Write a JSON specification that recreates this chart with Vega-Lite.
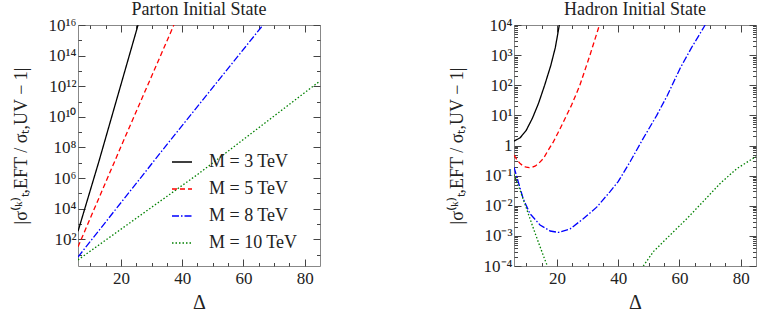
{
  "$schema": "https://vega.github.io/schema/vega-lite/v6.json",
  "padding": {"left": 12, "top": 0, "right": 5, "bottom": 5},
  "config": {
    "font": "Liberation Serif",
    "view": {"stroke": "#888888", "strokeWidth": 1},
    "axis": {"domain": false, "grid": false, "labelFont": "Liberation Serif", "labelFontSize": 17, "labelColor": "#222222", "tickColor": "#444444", "tickWidth": 1, "titleFont": "Liberation Serif", "titleFontWeight": "normal", "titleColor": "#222222"},
    "title": {"font": "Liberation Serif", "fontSize": 18, "fontWeight": "normal", "color": "#222222"}
  },
  "datasets": {
    "parton": [
      {"D": 6, "val": 330, "M": "M = 3 TeV"},
      {"D": 12.76, "val": 1.1e7, "M": "M = 3 TeV"},
      {"D": 25.6, "val": 1e16, "M": "M = 3 TeV"},
      {"D": 6, "val": 32, "M": "M = 5 TeV"},
      {"D": 20, "val": 1.1e8, "M": "M = 5 TeV"},
      {"D": 37.3, "val": 1e16, "M": "M = 5 TeV"},
      {"D": 6, "val": 7, "M": "M = 8 TeV"},
      {"D": 36, "val": 2.7e8, "M": "M = 8 TeV"},
      {"D": 66.4, "val": 1e16, "M": "M = 8 TeV"},
      {"D": 6, "val": 4.5, "M": "M = 10 TeV"},
      {"D": 45, "val": 1.7e6, "M": "M = 10 TeV"},
      {"D": 85, "val": 2.2e12, "M": "M = 10 TeV"}
    ],
    "hadron": [
      {"D": 6, "val": 1.4, "M": "M = 3 TeV", "part": "a"},
      {"D": 8, "val": 1.8, "M": "M = 3 TeV", "part": "a"},
      {"D": 10, "val": 3.2, "M": "M = 3 TeV", "part": "a"},
      {"D": 12, "val": 8, "M": "M = 3 TeV", "part": "a"},
      {"D": 14, "val": 25, "M": "M = 3 TeV", "part": "a"},
      {"D": 16, "val": 100, "M": "M = 3 TeV", "part": "a"},
      {"D": 18, "val": 450, "M": "M = 3 TeV", "part": "a"},
      {"D": 19.5, "val": 1800, "M": "M = 3 TeV", "part": "a"},
      {"D": 20.8, "val": 10000, "M": "M = 3 TeV", "part": "a"},
      {"D": 6, "val": 0.48, "M": "M = 5 TeV", "part": "a"},
      {"D": 7, "val": 0.33, "M": "M = 5 TeV", "part": "a"},
      {"D": 8, "val": 0.25, "M": "M = 5 TeV", "part": "a"},
      {"D": 9, "val": 0.21, "M": "M = 5 TeV", "part": "a"},
      {"D": 10, "val": 0.19, "M": "M = 5 TeV", "part": "a"},
      {"D": 11, "val": 0.185, "M": "M = 5 TeV", "part": "a"},
      {"D": 12, "val": 0.19, "M": "M = 5 TeV", "part": "a"},
      {"D": 13, "val": 0.21, "M": "M = 5 TeV", "part": "a"},
      {"D": 14, "val": 0.25, "M": "M = 5 TeV", "part": "a"},
      {"D": 15.6, "val": 0.37, "M": "M = 5 TeV", "part": "a"},
      {"D": 17, "val": 0.65, "M": "M = 5 TeV", "part": "a"},
      {"D": 18.8, "val": 1.3, "M": "M = 5 TeV", "part": "a"},
      {"D": 20.5, "val": 2.8, "M": "M = 5 TeV", "part": "a"},
      {"D": 22.1, "val": 6, "M": "M = 5 TeV", "part": "a"},
      {"D": 24.8, "val": 22, "M": "M = 5 TeV", "part": "a"},
      {"D": 27.5, "val": 100, "M": "M = 5 TeV", "part": "a"},
      {"D": 30.8, "val": 1000, "M": "M = 5 TeV", "part": "a"},
      {"D": 33.9, "val": 10000, "M": "M = 5 TeV", "part": "a"},
      {"D": 6, "val": 0.19, "M": "M = 8 TeV", "part": "a"},
      {"D": 7.4, "val": 0.062, "M": "M = 8 TeV", "part": "a"},
      {"D": 9, "val": 0.017, "M": "M = 8 TeV", "part": "a"},
      {"D": 11.2, "val": 0.0055, "M": "M = 8 TeV", "part": "a"},
      {"D": 14.5, "val": 0.0023, "M": "M = 8 TeV", "part": "a"},
      {"D": 17.8, "val": 0.00145, "M": "M = 8 TeV", "part": "a"},
      {"D": 20.5, "val": 0.0013, "M": "M = 8 TeV", "part": "a"},
      {"D": 24.3, "val": 0.0017, "M": "M = 8 TeV", "part": "a"},
      {"D": 28.6, "val": 0.0037, "M": "M = 8 TeV", "part": "a"},
      {"D": 33, "val": 0.009, "M": "M = 8 TeV", "part": "a"},
      {"D": 37.3, "val": 0.029, "M": "M = 8 TeV", "part": "a"},
      {"D": 40, "val": 0.063, "M": "M = 8 TeV", "part": "a"},
      {"D": 44, "val": 0.3, "M": "M = 8 TeV", "part": "a"},
      {"D": 48, "val": 1.6, "M": "M = 8 TeV", "part": "a"},
      {"D": 52.6, "val": 10, "M": "M = 8 TeV", "part": "a"},
      {"D": 56, "val": 45, "M": "M = 8 TeV", "part": "a"},
      {"D": 60.2, "val": 360, "M": "M = 8 TeV", "part": "a"},
      {"D": 64, "val": 1800, "M": "M = 8 TeV", "part": "a"},
      {"D": 68.4, "val": 10000, "M": "M = 8 TeV", "part": "a"},
      {"D": 6, "val": 0.11, "M": "M = 10 TeV", "part": "a"},
      {"D": 8, "val": 0.032, "M": "M = 10 TeV", "part": "a"},
      {"D": 10, "val": 0.0085, "M": "M = 10 TeV", "part": "a"},
      {"D": 12, "val": 0.0022, "M": "M = 10 TeV", "part": "a"},
      {"D": 14, "val": 0.0006, "M": "M = 10 TeV", "part": "a"},
      {"D": 16, "val": 0.00017, "M": "M = 10 TeV", "part": "a"},
      {"D": 16.9, "val": 0.0001, "M": "M = 10 TeV", "part": "a"},
      {"D": 48.2, "val": 0.0001, "M": "M = 10 TeV", "part": "b"},
      {"D": 51.5, "val": 0.0003, "M": "M = 10 TeV", "part": "b"},
      {"D": 56.9, "val": 0.00105, "M": "M = 10 TeV", "part": "b"},
      {"D": 62.4, "val": 0.0037, "M": "M = 10 TeV", "part": "b"},
      {"D": 67.8, "val": 0.014, "M": "M = 10 TeV", "part": "b"},
      {"D": 73.3, "val": 0.055, "M": "M = 10 TeV", "part": "b"},
      {"D": 78.7, "val": 0.17, "M": "M = 10 TeV", "part": "b"},
      {"D": 85, "val": 0.43, "M": "M = 10 TeV", "part": "b"}
    ]
  },
  "spacing": 126,
  "resolve": {"scale": {"color": "independent", "strokeDash": "independent"}, "legend": {"color": "independent", "strokeDash": "independent"}},
  "hconcat": [
    {
      "width": 242,
      "height": 241,
      "title": {"text": "Parton Initial State", "offset": -3},
      "data": {"name": "parton"},
      "layer": [
        {
          "mark": {"type": "line", "clip": true, "strokeWidth": 1.3},
          "encoding": {
            "x": {"field": "D", "type": "quantitative", "scale": {"domain": [6, 85], "nice": false, "zero": false},
              "axis": {"orient": "bottom", "values": [10, 15, 20, 25, 30, 35, 40, 45, 50, 55, 60, 65, 70, 75, 80], "labelExpr": "datum.value % 20 == 0 ? datum.label : ''", "tickSize": {"condition": {"test": "datum.value % 20 == 0", "value": -7}, "value": -3.5}, "labelPadding": 11, "title": "Δ", "titleFontSize": 20, "titlePadding": 6}},
            "y": {"field": "val", "type": "quantitative", "scale": {"type": "log", "domain": [1.8, 1e16], "nice": false},
              "axis": {"orient": "left", "values": [10, 100, 1000, 1e4, 1e5, 1e6, 1e7, 1e8, 1e9, 1e10, 1e11, 1e12, 1e13, 1e14, 1e15, 1e16],
                "labelExpr": "round(log(datum.value)/LN10) % 2 != 0 ? '' : '10' + replace(replace(replace(replace(replace(replace(replace(replace(replace(replace('' + round(log(datum.value)/LN10), '0', '⁰'), '1', '¹'), '2', '²'), '3', '³'), '4', '⁴'), '5', '⁵'), '6', '⁶'), '7', '⁷'), '8', '⁸'), '9', '⁹')",
                "tickSize": {"condition": {"test": "round(log(datum.value)/LN10) % 2 == 0", "value": -7}, "value": -3.5}, "labelPadding": 9, "title": "|σ⁽ᵏ⁾ₜ,EFT / σₜ,UV − 1|", "titleFontSize": 18, "titlePadding": 17}},
            "color": {"field": "M", "type": "nominal", "scale": {"domain": ["M = 3 TeV", "M = 5 TeV", "M = 8 TeV", "M = 10 TeV"], "range": ["#000000", "#ff0000", "#0000ff", "#008000"]},
              "legend": {"orient": "none", "legendX": 93, "legendY": 126, "title": null, "symbolType": "stroke", "symbolSize": 400, "symbolStrokeWidth": 1.4, "labelFontSize": 18, "labelFont": "Liberation Serif", "labelColor": "#222222", "labelOffset": 16, "rowPadding": 7}},
            "strokeDash": {"field": "M", "type": "nominal", "scale": {"domain": ["M = 3 TeV", "M = 5 TeV", "M = 8 TeV", "M = 10 TeV"], "range": [[1, 0], [5, 3], [7, 2, 1.5, 2], [1.5, 2]]},
              "legend": {"orient": "none", "legendX": 93, "legendY": 126, "title": null, "symbolType": "stroke", "symbolSize": 400, "symbolStrokeWidth": 1.4, "labelFontSize": 18, "labelFont": "Liberation Serif", "labelColor": "#222222", "labelOffset": 16, "rowPadding": 7}}
          }
        },
        {
          "mark": {"type": "line", "opacity": 0},
          "encoding": {
            "x": {"field": "D", "type": "quantitative", "axis": {"orient": "top", "values": [10, 15, 20, 25, 30, 35, 40, 45, 50, 55, 60, 65, 70, 75, 80], "labels": false, "title": null, "tickSize": {"condition": {"test": "datum.value % 20 == 0", "value": -7}, "value": -3.5}}},
            "y": {"field": "val", "type": "quantitative", "axis": {"orient": "right", "values": [10, 100, 1000, 1e4, 1e5, 1e6, 1e7, 1e8, 1e9, 1e10, 1e11, 1e12, 1e13, 1e14, 1e15, 1e16], "labels": false, "title": null, "tickSize": {"condition": {"test": "round(log(datum.value)/LN10) % 2 == 0", "value": -7}, "value": -3.5}}},
            "detail": {"field": "M"}
          }
        }
      ],
      "resolve": {"axis": {"x": "independent", "y": "independent"}}
    },
    {
      "width": 242,
      "height": 241,
      "title": {"text": "Hadron Initial State", "offset": -3},
      "data": {"name": "hadron"},
      "layer": [
        {
          "mark": {"type": "line", "clip": true, "strokeWidth": 1.3},
          "encoding": {
            "x": {"field": "D", "type": "quantitative", "scale": {"domain": [6, 85], "nice": false, "zero": false},
              "axis": {"orient": "bottom", "values": [10, 15, 20, 25, 30, 35, 40, 45, 50, 55, 60, 65, 70, 75, 80], "labelExpr": "datum.value % 20 == 0 ? datum.label : ''", "tickSize": {"condition": {"test": "datum.value % 20 == 0", "value": -7}, "value": -3.5}, "labelPadding": 11, "title": "Δ", "titleFontSize": 20, "titlePadding": 6}},
            "y": {"field": "val", "type": "quantitative", "scale": {"type": "log", "domain": [0.0001, 10000], "nice": false},
              "axis": {"orient": "left", "values": [0.0001, 0.0002, 0.0003, 0.0004, 0.0005, 0.0006, 0.0007, 0.0008, 0.0009, 0.001, 0.002, 0.003, 0.004, 0.005, 0.006, 0.007, 0.008, 0.009, 0.01, 0.02, 0.03, 0.04, 0.05, 0.06, 0.07, 0.08, 0.09, 0.1, 0.2, 0.3, 0.4, 0.5, 0.6, 0.7, 0.8, 0.9, 1, 2, 3, 4, 5, 6, 7, 8, 9, 10, 20, 30, 40, 50, 60, 70, 80, 90, 100, 200, 300, 400, 500, 600, 700, 800, 900, 1000, 2000, 3000, 4000, 5000, 6000, 7000, 8000, 9000, 10000],
                "labelExpr": "abs(log(datum.value)/LN10 - round(log(datum.value)/LN10)) > 0.001 ? '' : (round(log(datum.value)/LN10) == 0 ? '1' : '10' + replace(replace(replace(replace(replace(replace(replace(replace(replace(replace(replace('' + round(log(datum.value)/LN10), '-', '⁻'), '0', '⁰'), '1', '¹'), '2', '²'), '3', '³'), '4', '⁴'), '5', '⁵'), '6', '⁶'), '7', '⁷'), '8', '⁸'), '9', '⁹'))",
                "tickSize": {"condition": {"test": "abs(log(datum.value)/LN10 - round(log(datum.value)/LN10)) < 0.001", "value": -7}, "value": -3.5}, "labelPadding": 9, "title": "|σ⁽ᵏ⁾ₜ,EFT / σₜ,UV − 1|", "titleFontSize": 18, "titlePadding": 17}},
            "color": {"field": "M", "type": "nominal", "scale": {"domain": ["M = 3 TeV", "M = 5 TeV", "M = 8 TeV", "M = 10 TeV"], "range": ["#000000", "#ff0000", "#0000ff", "#008000"]}, "legend": null},
            "strokeDash": {"field": "M", "type": "nominal", "scale": {"domain": ["M = 3 TeV", "M = 5 TeV", "M = 8 TeV", "M = 10 TeV"], "range": [[1, 0], [5, 3], [7, 2, 1.5, 2], [1.5, 2]]}, "legend": null},
            "detail": {"field": "part"}
          }
        },
        {
          "mark": {"type": "line", "opacity": 0},
          "encoding": {
            "x": {"field": "D", "type": "quantitative", "axis": {"orient": "top", "values": [10, 15, 20, 25, 30, 35, 40, 45, 50, 55, 60, 65, 70, 75, 80], "labels": false, "title": null, "tickSize": {"condition": {"test": "datum.value % 20 == 0", "value": -7}, "value": -3.5}}},
            "y": {"field": "val", "type": "quantitative", "axis": {"orient": "right", "values": [0.0001, 0.0002, 0.0003, 0.0004, 0.0005, 0.0006, 0.0007, 0.0008, 0.0009, 0.001, 0.002, 0.003, 0.004, 0.005, 0.006, 0.007, 0.008, 0.009, 0.01, 0.02, 0.03, 0.04, 0.05, 0.06, 0.07, 0.08, 0.09, 0.1, 0.2, 0.3, 0.4, 0.5, 0.6, 0.7, 0.8, 0.9, 1, 2, 3, 4, 5, 6, 7, 8, 9, 10, 20, 30, 40, 50, 60, 70, 80, 90, 100, 200, 300, 400, 500, 600, 700, 800, 900, 1000, 2000, 3000, 4000, 5000, 6000, 7000, 8000, 9000, 10000], "labels": false, "title": null, "tickSize": {"condition": {"test": "abs(log(datum.value)/LN10 - round(log(datum.value)/LN10)) < 0.001", "value": -7}, "value": -3.5}}},
            "detail": {"field": "M"}
          }
        }
      ],
      "resolve": {"axis": {"x": "independent", "y": "independent"}}
    }
  ]
}
